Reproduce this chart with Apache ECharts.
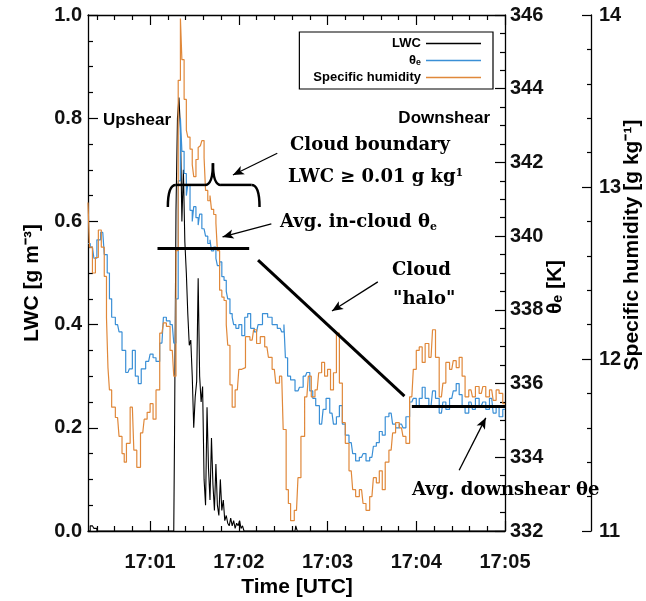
<!DOCTYPE html>
<html>
<head>
<meta charset="utf-8">
<script src="https://cdn.jsdelivr.net/npm/echarts@6/dist/echarts.min.js"></script>
<style>
  html, body { margin: 0; padding: 0; background: #fff; }
  #chart { width: 646px; height: 601px; }
</style>
</head>
<body>
<div id="chart"></div>
<script>
// time = seconds after 17:00:00 UTC
const lwcTime = [18, 21, 23, 25, 30, 40, 50, 60, 70, 76,
  77, 78, 79, 80, 81, 82, 83, 84, 85, 86,
  87, 88, 89, 90, 91, 92, 93, 94, 95, 96,
  97, 98, 99, 100, 101, 102, 103, 104, 105, 106,
  107, 108, 109, 110, 111, 112, 113, 114, 115, 116,
  117, 118, 119, 120, 121, 122, 123, 124,
  126, 140, 158, 159, 160, 170, 200, 250, 300];
const lwcVals = [0, 0.01, 0.005, 0, 0, 0, 0, 0, 0, 0,
  0.18, 0.62, 0.80, 0.84, 0.78, 0.60, 0.70, 0.56, 0.50, 0.42,
  0.36, 0.37, 0.30, 0.20, 0.26, 0.29, 0.49, 0.30, 0.25, 0.28,
  0.10, 0.05, 0.24, 0.12, 0.06, 0.18, 0.09, 0.04, 0.13, 0.05,
  0.03, 0.10, 0.04, 0.06, 0.02, 0.03, 0.015, 0.01, 0.025, 0.01,
  0.02, 0.005, 0.015, 0.01, 0.02, 0.005, 0.01, 0,
  0, 0, 0, 0.01, 0, 0, 0, 0, 0];

const thetaTime = [18, 21, 23, 25, 28, 30, 32, 33, 35, 38,
  40, 42, 45, 47, 49, 51, 53, 55, 59, 61,
  63, 65, 68, 70, 72, 75, 77, 78, 80, 81,
  82, 84, 85, 86, 88, 89, 90, 92, 93, 94,
  96, 97, 98, 100, 101, 102, 104, 105, 106, 108,
  109, 111, 112, 113, 115, 116, 117, 119, 121, 123,
  125, 127, 129, 132, 134, 138, 141, 144, 148, 150,
  151, 152, 154, 156, 160, 162, 165, 167, 169, 171,
  173, 176, 178, 180, 183, 185, 187, 189, 191, 193,
  196, 198, 200, 203, 205, 207, 210, 212, 214, 216,
  218, 220, 223, 225, 227, 230, 232, 234, 237, 239,
  241, 243, 245, 247, 250, 252, 254, 257, 259, 261,
  264, 266, 268, 270, 272, 274, 277, 279, 281, 284,
  286, 288, 291, 293, 295, 297, 300];
const thetaVals = [339.8, 339.7, 339.4, 339.9, 340.1, 339.5, 339.0, 338.3, 337.8, 337.6,
  337.4, 336.9, 336.3, 336.4, 336.9, 336.2, 336.0, 336.4, 336.6, 336.8,
  336.7, 336.6, 337.1, 337.8, 337.7, 337.6, 337.1, 338.3, 341.5, 343.2,
  342.3, 341.7, 341.1, 341.4, 340.7, 340.4, 340.8, 340.5, 340.3, 340.6,
  340.2, 340.2, 340.0, 339.8, 339.9, 339.6, 339.7, 339.4, 339.2, 339.3,
  338.9, 338.8, 338.5, 338.3, 337.9, 337.8, 337.6, 337.5, 337.6, 337.3,
  337.8, 337.9, 337.5, 337.4, 337.6, 337.9, 337.8, 337.6, 337.5, 337.4,
  337.6, 336.7, 336.2, 336.1, 335.8, 335.9, 336.2, 336.3, 335.8, 335.6,
  335.4, 334.9, 335.3, 335.6, 335.2, 334.9, 335.1, 335.4, 334.9, 334.6,
  334.4, 334.1, 333.9, 334.0, 334.1, 333.9, 334.0, 334.3, 334.4, 334.7,
  334.6, 335.1, 335.2, 334.9, 334.8, 334.9, 334.8, 335.1, 335.5, 335.6,
  335.4, 335.6, 335.9, 335.6, 335.4, 335.8, 335.6, 335.2, 335.5, 335.3,
  335.6, 335.8, 336.0, 335.7, 335.4, 335.2, 335.5, 335.3, 335.6, 335.4,
  335.5, 335.3, 335.6, 335.2, 335.4, 335.1, 335.3];

const qTime = [18, 20, 22, 24, 26, 28, 30, 31, 32, 33,
  35, 38, 40, 42, 43, 45, 48, 50, 52, 55,
  57, 59, 61, 63, 65, 68, 70, 72, 75, 77,
  78, 80, 81, 82, 84, 85, 86, 88, 89, 90,
  92, 93, 94, 96, 97, 98, 100, 101, 102, 104,
  105, 106, 108, 109, 111, 112, 113, 115, 116, 119,
  121, 123, 126, 129, 131, 133, 136, 139, 141, 144,
  146, 149, 151, 153, 154, 156, 159, 161, 163, 166,
  168, 170, 173, 175, 177, 179, 181, 183, 185, 187,
  189, 191, 193, 196, 198, 200, 203, 205, 207, 210,
  212, 214, 216, 218, 220, 223, 225, 227, 230, 232,
  234, 237, 239, 241, 243, 245, 247, 250, 252, 254,
  257, 259, 261, 264, 266, 268, 270, 272, 274, 277,
  279, 281, 284, 286, 288, 291, 293, 295, 297, 300];
const qVals = [12.91, 12.65, 12.50, 12.59, 12.75, 12.65, 12.48, 12.24, 11.95, 11.82,
  11.72, 11.66, 11.55, 11.45, 11.40, 11.51, 11.72, 11.47, 11.37, 11.57,
  11.65, 11.69, 11.74, 11.65, 11.82, 12.15, 12.21, 12.19, 12.05, 11.90,
  12.63, 13.62, 13.98, 13.74, 13.51, 13.33, 13.29, 13.22, 13.13, 13.06,
  13.16, 13.23, 13.24, 13.27, 13.17, 12.98, 12.92, 12.95, 12.87, 12.84,
  12.79, 12.63, 12.40, 12.36, 12.34, 12.20, 12.08, 11.85, 11.72, 11.82,
  11.94, 11.95, 12.13, 12.11, 12.17, 12.09, 12.13, 12.07, 12.01, 11.94,
  11.86, 11.90, 11.59, 11.24, 11.16, 11.06, 11.12, 11.31, 11.55, 11.78,
  11.90, 11.78, 11.82, 11.92, 11.98, 11.90, 11.94, 11.82, 11.92, 12.15,
  11.86, 11.63, 11.51, 11.35, 11.24, 11.20, 11.24, 11.16, 11.12, 11.20,
  11.31, 11.28, 11.35, 11.24, 11.40, 11.47, 11.57, 11.63, 11.60, 11.55,
  11.51, 11.78, 11.94, 12.05, 12.07, 11.98, 12.09, 12.01, 12.17, 12.01,
  11.78, 11.86, 11.98, 11.94, 11.99, 11.95, 12.01, 11.90, 11.78, 11.82,
  11.78, 11.84, 11.80, 11.84, 11.78, 11.82, 11.76, 11.82, 11.80, 11.74];

const majorTimes = [60, 120, 180, 240, 300];
const minorTimes = [24, 36, 48, 72, 84, 96, 108, 132, 144, 156, 168,
  192, 204, 216, 228, 252, 264, 276, 288];

// annotation lines, [time, theta_e]
const avgCloudLine = [[65, 339.68], [127, 339.68]];
const avgDownLine = [[237, 335.39], [300, 335.39]];
const haloLine = [[133, 339.35], [232, 335.66]];
const arrows = [
  [[146, 342.25], [116, 341.66]],
  [[142, 340.33], [109, 339.98]],
  [[214, 338.76], [183, 337.97]],
  [[269, 333.65], [287, 335.07]]
];
// brace ends / middle, [time, theta_e]
const braceLeft = [72, 340.79];
const braceRight = [134, 340.79];
const braceMid = [102.5, 341.98];
const braceBase = 341.39;

const sans = "'Liberation Sans', Arial, sans-serif";
const serif = "'DejaVu Serif', serif";
const BLUE = '#3a8fd6';
const ORANGE = '#e0883a';

const pairs = (t, v) => t.map((x, i) => [x, v[i]]);

const chart = echarts.init(document.getElementById('chart'));

const labelStyle = { fontFamily: sans, fontWeight: 'bold', fontSize: 20, color: '#111' };

function xAx(pos, ticks, len, show) {
  return {
    type: 'value', min: 18, max: 300, position: pos,
    axisLine: { show: show, onZero: false, lineStyle: { color: '#000', width: 1.3 } },
    axisTick: { show: true, inside: true, length: len, customValues: ticks, lineStyle: { color: '#000', width: 1.2 } },
    axisLabel: { show: false },
    splitLine: { show: false }
  };
}

const xMain = xAx('bottom', majorTimes, 10, true);
xMain.axisLabel = {
  show: true, customValues: majorTimes, margin: 21,
  formatter: v => '17:0' + Math.round(v / 60), ...labelStyle
};

function yTick(len) {
  return { show: true, inside: true, length: len, lineStyle: { color: '#000', width: 1.2 } };
}

const option = {
  backgroundColor: '#fff',
  animation: false,
  grid: { left: 88, right: 141, top: 15, bottom: 70, containLabel: false, outerBoundsMode: 'none' },
  legend: {
    orient: 'vertical', right: 153, top: 32, align: 'right',
    icon: 'rect', itemWidth: 55, itemHeight: 1.5, itemGap: 4,
    borderColor: '#000', borderWidth: 1.2, padding: [5, 12, 5, 14],
    textStyle: { fontFamily: sans, fontWeight: 'bold', fontSize: 13, color: '#000', width: 108, align: 'right' },
    data: ['LWC', 'θₑ', 'Specific humidity']
  },
  xAxis: [
    xMain,
    xAx('bottom', minorTimes, 5, false),
    xAx('top', majorTimes, 10, true),
    xAx('top', minorTimes, 5, false)
  ],
  yAxis: [
    {
      type: 'value', min: 0, max: 1, interval: 0.2, position: 'left',
      axisLine: { show: true, onZero: false, lineStyle: { color: '#000', width: 1.3 } },
      axisTick: yTick(10),
      minorTick: { show: true, splitNumber: 4, length: 5, lineStyle: { color: '#000', width: 1.2 } },
      axisLabel: { margin: 6, formatter: v => v.toFixed(1), ...labelStyle },
      splitLine: { show: false }
    },
    {
      type: 'value', min: 332, max: 346, interval: 2, position: 'right',
      axisLine: { show: true, onZero: false, lineStyle: { color: '#000', width: 1.3 } },
      axisTick: yTick(10),
      minorTick: { show: true, splitNumber: 4, length: 5, lineStyle: { color: '#000', width: 1.2 } },
      axisLabel: { margin: 5, ...labelStyle },
      splitLine: { show: false }
    },
    {
      type: 'value', min: 11, max: 14, interval: 1, position: 'right', offset: 86,
      axisLine: { show: true, onZero: false, lineStyle: { color: '#000', width: 1.3 } },
      axisTick: yTick(9),
      minorTick: { show: true, splitNumber: 5, length: 4, lineStyle: { color: '#000', width: 1.2 } },
      axisLabel: { margin: 8, ...labelStyle },
      splitLine: { show: false }
    }
  ],
  series: [
    {
      name: 'LWC', type: 'line', xAxisIndex: 0, yAxisIndex: 0,
      data: pairs(lwcTime, lwcVals), step: 'middle', showSymbol: false,
      color: '#000', lineStyle: { color: '#000', width: 1.1 }
    },
    {
      name: 'θₑ', type: 'line', xAxisIndex: 0, yAxisIndex: 1,
      data: pairs(thetaTime, thetaVals), step: 'middle', showSymbol: false,
      color: BLUE, lineStyle: { color: BLUE, width: 1.2 },
      markLine: {
        silent: true, symbol: 'none', label: { show: false },
        emphasis: { disabled: true },
        data: [
          [{ coord: avgCloudLine[0], lineStyle: { color: '#000', width: 3, type: 'solid' } }, { coord: avgCloudLine[1] }],
          [{ coord: avgDownLine[0], lineStyle: { color: '#000', width: 3, type: 'solid' } }, { coord: avgDownLine[1] }],
          [{ coord: haloLine[0], lineStyle: { color: '#000', width: 3, type: 'solid' } }, { coord: haloLine[1] }]
        ].concat(arrows.map(a => [
          { coord: a[0], symbol: 'none', lineStyle: { color: '#000', width: 1.3, type: 'solid' } },
          { coord: a[1], symbol: 'arrow', symbolSize: [7, 11] }
        ]))
      }
    },
    {
      name: 'Specific humidity', type: 'line', xAxisIndex: 0, yAxisIndex: 2,
      data: pairs(qTime, qVals), step: 'middle', showSymbol: false,
      color: ORANGE, lineStyle: { color: ORANGE, width: 1.2 }
    }
  ]
};

chart.setOption(option);

// brace drawn from data coordinates
const px = p => chart.convertToPixel({ xAxisIndex: 0, yAxisIndex: 1 }, p);
const L = px(braceLeft), R = px(braceRight), M = px(braceMid);
const yb = px([braceMid[0], braceBase])[1];
const r = 8;
const braceStyle = { fill: null, stroke: '#000', lineWidth: 2.5 };

function curve(x1, y1, cx, cy, x2, y2) {
  return { type: 'bezierCurve', z: 100, shape: { x1: x1, y1: y1, cpx1: cx, cpy1: cy, x2: x2, y2: y2 }, style: braceStyle };
}
function seg(x1, y1, x2, y2) {
  return { type: 'line', z: 100, shape: { x1: x1, y1: y1, x2: x2, y2: y2 }, style: braceStyle };
}

function txt(x, y, text, font, size, align, rich, rot) {
  return {
    type: 'text', x: x, y: y, z: 100, rotation: rot || 0,
    style: {
      text: text, fontFamily: font, fontWeight: 'bold', fontSize: size, fill: '#000',
      align: align || 'left', verticalAlign: 'middle', rich: rich
    }
  };
}

const subRich = {
  a: { fontFamily: serif, fontWeight: 'bold', fontSize: 18, fill: '#000' },
  b: { fontFamily: serif, fontWeight: 'bold', fontSize: 11, fill: '#000', verticalAlign: 'bottom', padding: [10, 0, 0, 0] },
  p: { fontFamily: serif, fontWeight: 'bold', fontSize: 11, fill: '#000', verticalAlign: 'top', padding: [0, 0, 8, 0] }
};
const up = Math.PI / 2;

chart.setOption({
  graphic: [
    curve(L[0], L[1], L[0], yb, L[0] + r, yb),
    seg(L[0] + r, yb, M[0] - r, yb),
    curve(M[0] - r, yb, M[0], yb, M[0], M[1]),
    curve(M[0], M[1], M[0], yb, M[0] + r, yb),
    seg(M[0] + r, yb, R[0] - r, yb),
    curve(R[0] - r, yb, R[0], yb, R[0], R[1]),
    // axis titles
    txt(32, 283, 'LWC [g m⁻³]', sans, 21, 'center', null, up),
    txt(297, 587, 'Time [UTC]', sans, 21, 'center'),
    txt(555, 287, 'θₑ [K]', sans, 21, 'center', null, up),
    txt(632, 245, 'Specific humidity [g kg⁻¹]', sans, 21, 'center', null, up),
    // annotations
    txt(103, 120, 'Upshear', sans, 17),
    txt(490, 118, 'Downshear', sans, 17, 'right'),
    txt(290, 145, 'Cloud boundary', serif, 18),
    txt(288, 177, '{a|LWC ≥ 0.01 g kg}{p|1}', serif, 18, 'left', subRich),
    txt(280, 222, '{a|Avg. in-cloud θ}{b|e}', serif, 18, 'left', subRich),
    txt(392, 270, 'Cloud', serif, 18),
    txt(393, 299, '"halo"', serif, 18),
    txt(412, 490, 'Avg. downshear θe', serif, 18)
  ]
});
</script>
</body>
</html>
